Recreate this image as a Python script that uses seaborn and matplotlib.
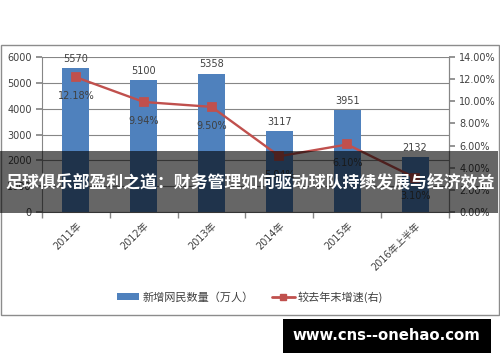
import numpy as np
import pandas as pd
import matplotlib
matplotlib.use("Agg")
import matplotlib.pyplot as plt
import seaborn as sns
from matplotlib.patches import Rectangle
from matplotlib.lines import Line2D
from matplotlib.patches import Patch

years = ["2011年", "2012年", "2013年", "2014年", "2015年", "2016年上半年"]
netizens = [5570, 5100, 5358, 3117, 3951, 2132]
growth = [12.18, 9.94, 9.50, 5.04, 6.10, 3.10]
growth_labels = ["12.18%", "9.94%", "9.50%", "5.04%", "6.10%", "3.10%"]
left_ticks = [0, 1000, 2000, 3000, 4000, 5000, 6000]
right_ticks = [0, 2, 4, 6, 8, 10, 12, 14]
bar_name = "新增网民数量（万人）"
line_name = "较去年末增速(右)"
title = "足球俱乐部盈利之道：财务管理如何驱动球队持续发展与经济效益"
watermark = "www.cns--onehao.com"

sns.set_theme(style="white")
plt.rcParams["font.family"] = ["DejaVu Sans", "Noto Sans CJK SC"]

BLUE = "#4F81BD"
RED = "#C0504D"
GRID = "#868686"
TXT = "#404040"

fig = plt.figure(figsize=(5.0, 3.62), dpi=100)
ax = fig.add_axes([0.084, 0.4144, 0.814, 0.428])

df = pd.DataFrame({"year": years, "n": netizens, "g": growth})
sns.barplot(data=df, x="year", y="n", ax=ax, color=BLUE, width=0.4,
            saturation=1, edgecolor="none")
ax.set_ylim(0, 6000)
ax.set_yticks(left_ticks)
ax.set_xlim(-0.5, len(years) - 0.5)
ax.grid(axis="y", color=GRID, linewidth=0.8)
ax.set_axisbelow(True)
ax.set_xlabel("")
ax.set_ylabel("")
ax.bar_label(ax.containers[0], labels=[str(v) for v in netizens],
             padding=3, fontsize=7, color=TXT)

ax.set_xticks(range(len(years)))
ax.set_xticklabels(years, rotation=45, ha="right", rotation_mode="anchor",
                   fontsize=7, color=TXT,
                   fontfamily=["DejaVu Sans", "Noto Sans CJK SC"])
ax.tick_params(axis="x", which="major", length=0, pad=6)
ax.set_xticks(np.arange(-0.5, len(years), 1.0), minor=True)
ax.tick_params(axis="x", which="minor", length=4, color=GRID, direction="out", bottom=True)
ax.tick_params(axis="y", labelsize=7, labelcolor=TXT, length=4, color=GRID,
               direction="out", left=True)

for s in ["top"]:
    ax.spines[s].set_visible(False)
for s in ["left", "bottom", "right"]:
    ax.spines[s].set_color(GRID)
    ax.spines[s].set_linewidth(0.8)

ax2 = ax.twinx()
sns.pointplot(x=years, y=growth, ax=ax2, color=RED, markers="s",
              markersize=6, linewidth=1.7)
ax2.set_ylim(0, 14)
ax2.set_yticks(right_ticks)
ax2.set_yticklabels([f"{t:.2f}%" for t in right_ticks])
ax2.tick_params(axis="y", labelsize=7, labelcolor=TXT, length=4, color=GRID,
                direction="out", right=True)
ax2.set_xlim(-0.5, len(years) - 0.5)
for s in ["top", "left", "bottom"]:
    ax2.spines[s].set_visible(False)
ax2.spines["right"].set_color(GRID)
ax2.spines["right"].set_linewidth(0.8)
ax2.set_ylabel("")
for i, (g, lab) in enumerate(zip(growth, growth_labels)):
    ax2.annotate(lab, (i, g), xytext=(0, -13.5), textcoords="offset points",
                 ha="center", va="center", fontsize=7, color=TXT)

# outer chart frame
fig.add_artist(Rectangle((0.002, 0.1298), 0.996, 0.7459, transform=fig.transFigure,
                         fill=False, edgecolor="#8C8C8C", linewidth=1.0))

# legend
handles = [Patch(facecolor=BLUE, edgecolor="none"),
           Line2D([0], [0], color=RED, linewidth=2, marker="s", markersize=5)]
fig.legend(handles, [bar_name, line_name], loc="center", bbox_to_anchor=(0.5, 0.18),
           ncol=2, frameon=False, prop={"family": ["Noto Sans CJK SC"], "size": 8},
           handlelength=2.0, handleheight=0.5, handletextpad=0.3,
           columnspacing=1.7, labelcolor=TXT)

# overlay banner with title
fig.add_artist(Rectangle((0.0, 1 - 213 / 362), 0.995, (213 - 151) / 362,
                         transform=fig.transFigure, facecolor="black", alpha=0.6,
                         edgecolor="none", zorder=10))
fig.text(0.5, 1 - 183 / 362, title, ha="center", va="center", color="white",
         fontsize=12.2, fontweight="bold", fontfamily=["Noto Sans CJK SC"], zorder=11)

# watermark box
fig.add_artist(Rectangle((283 / 500, 1 - 353 / 362), 208 / 500, 34 / 362,
                         transform=fig.transFigure, facecolor="black",
                         edgecolor="none", zorder=10))
fig.text(386 / 500, 1 - 336 / 362, watermark, ha="center", va="center", color="white",
         fontsize=10.7, fontweight="bold", fontfamily=["DejaVu Sans"], zorder=11)

fig.savefig("out.png", dpi=100)
